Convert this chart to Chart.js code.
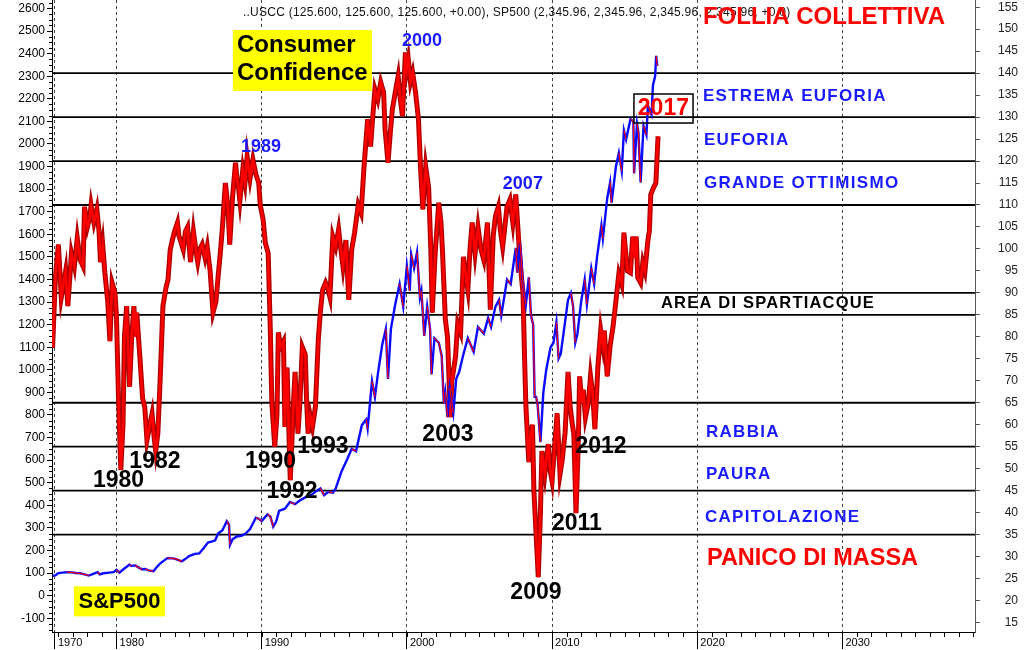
<!DOCTYPE html>
<html>
<head>
<meta charset="utf-8">
<title>USCC vs SP500</title>
<script src="https://cdn.jsdelivr.net/npm/chart.js@4.4.0/dist/chart.umd.min.js"></script>
<style>
  html, body { margin: 0; padding: 0; background: #fff; }
  #wrap { width: 1024px; height: 650px; position: relative; }
</style>
</head>
<body>
<div id="wrap"><canvas id="ccChart"></canvas></div>
<script>
// consumer confidence (right axis)
var ccYears = [
  1975.6, 1975.8, 1976.0, 1976.2, 1976.35, 1976.5, 1976.65, 1976.9, 1977.1, 1977.3,
  1977.5, 1977.7, 1977.8, 1978.0, 1978.15, 1978.25, 1978.45, 1978.65, 1978.8, 1978.9,
  1979.05, 1979.2, 1979.4, 1979.55, 1979.7, 1979.9, 1980.0, 1980.15, 1980.3, 1980.45,
  1980.55, 1980.7, 1980.8, 1980.9, 1981.05, 1981.2, 1981.3, 1981.4, 1981.6, 1981.8,
  1981.95, 1982.1, 1982.3, 1982.45, 1982.6, 1982.7, 1982.85, 1983.0, 1983.2, 1983.4,
  1983.55, 1983.7, 1983.85, 1984.0, 1984.2, 1984.3, 1984.4, 1984.6, 1984.75, 1984.9,
  1985.1, 1985.3, 1985.5, 1985.6, 1985.75, 1985.9, 1986.1, 1986.25, 1986.45, 1986.65,
  1986.85, 1987.0, 1987.15, 1987.3, 1987.5, 1987.6, 1987.7, 1987.8, 1988.0, 1988.2,
  1988.3, 1988.4, 1988.5, 1988.7, 1988.85, 1989.0, 1989.2, 1989.4, 1989.6, 1989.8,
  1989.9, 1990.1, 1990.25, 1990.45, 1990.6, 1990.7, 1990.9, 1991.05, 1991.15, 1991.3,
  1991.5, 1991.6, 1991.75, 1991.97, 1992.2, 1992.3, 1992.5, 1992.65, 1992.8, 1993.0,
  1993.1, 1993.2, 1993.35, 1993.5, 1993.7, 1993.9, 1994.05, 1994.2, 1994.4, 1994.55,
  1994.7, 1994.9, 1995.1, 1995.3, 1995.45, 1995.6, 1995.8, 1996.0, 1996.2, 1996.4,
  1996.65, 1996.85, 1997.05, 1997.3, 1997.5, 1997.65, 1997.8, 1998.0, 1998.2, 1998.4,
  1998.5, 1998.7, 1998.85, 1999.0, 1999.2, 1999.4, 1999.55, 1999.7, 1999.9, 2000.0,
  2000.1, 2000.25, 2000.4, 2000.6, 2000.8, 2000.95, 2001.1, 2001.3, 2001.5, 2001.65,
  2001.75, 2001.95, 2002.2, 2002.35, 2002.45, 2002.65, 2002.8, 2003.0, 2003.1, 2003.35,
  2003.5, 2003.7, 2003.9, 2004.05, 2004.2, 2004.35, 2004.5, 2004.7, 2004.9, 2005.1,
  2005.3, 2005.55, 2005.75, 2005.95, 2006.1, 2006.3, 2006.45, 2006.6, 2006.75, 2006.9,
  2007.1, 2007.3, 2007.5, 2007.7, 2007.85, 2008.0, 2008.1, 2008.2, 2008.4, 2008.5,
  2008.65, 2008.75, 2008.85, 2009.05, 2009.2, 2009.3, 2009.5, 2009.6, 2009.75, 2009.85,
  2010.0, 2010.2, 2010.35, 2010.55, 2010.7, 2010.9, 2011.1, 2011.25, 2011.4, 2011.5,
  2011.65, 2011.8, 2011.9, 2012.05, 2012.15, 2012.3, 2012.5, 2012.65, 2012.8, 2012.95,
  2013.15, 2013.35, 2013.5, 2013.6, 2013.8, 2014.0, 2014.2, 2014.4, 2014.6, 2014.8,
  2014.95, 2015.05, 2015.2, 2015.4, 2015.55, 2015.7, 2015.8, 2015.9, 2016.1, 2016.25,
  2016.4, 2016.6, 2016.7, 2016.8, 2017.0, 2017.15, 2017.3
];
var ccValues = [
  77.5, 94, 101, 89, 92, 95, 87, 99, 96, 102.5,
  97.5, 96, 109.6, 105, 107, 110, 106, 109, 104, 97,
  101, 94.6, 88, 79, 92.3, 90, 84.6, 65, 49.7, 60,
  80, 87, 78, 68.6, 80, 87, 80, 85.5, 76, 66,
  64, 56.5, 60, 62.5, 57, 54, 58, 69.5, 87, 91,
  93, 99.8, 102, 104, 106, 103, 102, 99.8, 104, 105,
  97, 104, 99, 97, 100, 101, 98, 100.5, 95, 85.5,
  88, 93.7, 99, 105, 115, 112, 108, 101, 112, 119.6,
  116, 114, 111, 118, 115, 121, 116, 120.3, 117, 115,
  110, 106.7, 101.4, 99, 81, 65, 55, 62, 81, 77.7,
  79, 59.5, 73, 47.4, 65.6, 72, 58, 66, 77.7, 76,
  65, 58, 62, 59.5, 64, 79.3, 86, 90.7, 92.3, 91,
  89, 102.8, 100.5, 104.4, 100, 96, 102, 88.4, 99.8, 103.7,
  110, 108.2, 118.7, 129.5, 123.3, 130, 136.3, 134, 137.9, 135.6,
  127.2, 119.6, 126, 131.7, 135.6, 139.3, 134, 130.2, 144.7, 141,
  143.1, 138, 140.1, 135.6, 129.5, 118, 109, 118.7, 114, 100,
  85.5, 99, 110.5, 106, 99.8, 84, 80, 61.7, 70, 75.4,
  83, 81, 98.2, 94, 90.7, 100, 106, 99, 105, 100,
  97.5, 106, 86.2, 103, 107.4, 109.6, 104, 100.5, 105, 109.6,
  111.2, 106, 112.4, 102, 95, 90, 76, 64.2, 51.5, 57,
  60, 45, 38.5, 25.3, 40, 54, 48.8, 52, 55.6, 50,
  47.2, 56, 62.6, 48.8, 52, 58.3, 72, 64, 60, 58,
  39.9, 55, 71, 65, 68, 61.7, 65, 71, 67, 59,
  72.8, 81.4, 78, 81.4, 71, 78, 82.3, 88.2, 94.3, 92,
  103.7, 100, 95, 94.6, 102.8, 98, 102.8, 93.5, 92.3, 96.9,
  95, 101.9, 104, 112.4, 114, 115, 125.6
];

// S&P500 (left axis)
var spYears = [
  1975.6, 1975.8, 1976.0, 1976.3, 1976.6, 1976.9, 1977.2, 1977.5, 1977.8, 1978.1,
  1978.4, 1978.7, 1978.85, 1979.1, 1979.5, 1979.8, 1980.0, 1980.2, 1980.5, 1980.9,
  1981.0, 1981.3, 1981.6, 1981.75, 1982.0, 1982.2, 1982.55, 1982.75, 1983.0, 1983.5,
  1983.9, 1984.1, 1984.5, 1984.8, 1985.0, 1985.4, 1985.7, 1986.0, 1986.3, 1986.6,
  1986.8, 1987.0, 1987.3, 1987.6, 1987.75, 1987.82, 1988.0, 1988.3, 1988.6, 1988.9,
  1989.2, 1989.6, 1989.8, 1990.0, 1990.4, 1990.6, 1990.8, 1991.0, 1991.2, 1991.6,
  1991.95, 1992.3, 1992.6, 1993.0, 1993.4, 1993.8, 1994.05, 1994.3, 1994.6, 1994.9,
  1995.1, 1995.5, 1995.9, 1996.2, 1996.5, 1996.9, 1997.2, 1997.3, 1997.6, 1997.8,
  1998.0, 1998.3, 1998.55, 1998.7, 1998.9, 1999.2, 1999.5, 1999.75, 2000.0, 2000.2,
  2000.3, 2000.5, 2000.7, 2000.9, 2001.0, 2001.2, 2001.4, 2001.6, 2001.7, 2001.9,
  2002.2, 2002.4, 2002.55, 2002.65, 2002.8, 2002.95, 2003.2, 2003.4, 2003.6, 2003.9,
  2004.2, 2004.4, 2004.6, 2004.9, 2005.3, 2005.6, 2005.8, 2006.1, 2006.35, 2006.5,
  2006.9, 2007.15, 2007.5, 2007.6, 2007.8, 2008.0, 2008.2, 2008.4, 2008.55, 2008.7,
  2008.8, 2008.9, 2009.0, 2009.2, 2009.4, 2009.6, 2009.9, 2010.1, 2010.3, 2010.45,
  2010.6, 2010.85, 2011.1, 2011.3, 2011.45, 2011.6, 2011.75, 2012.0, 2012.25, 2012.4,
  2012.7, 2012.9, 2013.1, 2013.4, 2013.5, 2013.8, 2014.0, 2014.1, 2014.4, 2014.6,
  2014.8, 2014.95, 2015.1, 2015.4, 2015.6, 2015.65, 2015.85, 2015.95, 2016.1, 2016.3,
  2016.5, 2016.6, 2016.85, 2016.95, 2017.1, 2017.17, 2017.25
];
var spValues = [
  88, 90, 100, 102, 104, 103, 100, 99, 94, 89,
  96, 104, 94, 99, 102, 104, 114, 102, 118, 138,
  132, 134, 122, 117, 118, 112, 108, 125, 142, 166,
  165, 162, 152, 165, 175, 185, 187, 210, 235, 240,
  245, 275, 290, 330, 315, 225, 250, 262, 265, 275,
  295, 345, 340, 330, 360, 350, 305, 328, 375, 385,
  415, 405, 420, 435, 445, 465, 475, 445, 460, 455,
  475, 550, 605, 650, 640, 755, 780, 740, 950, 880,
  980, 1110, 1180, 960, 1180, 1290, 1380, 1280, 1460, 1350,
  1510, 1450, 1520, 1320, 1350, 1150, 1280, 1180, 980, 1140,
  1120, 1060, 850, 900, 790, 920, 810, 960, 990, 1070,
  1140, 1110, 1080, 1190, 1160, 1230, 1190, 1280, 1310, 1240,
  1400, 1380, 1540, 1430, 1560, 1380, 1290, 1410, 1240, 1200,
  880, 880, 850, 680, 900, 1000, 1100, 1120, 1210, 1050,
  1070, 1190, 1310, 1340, 1280, 1120, 1160, 1300, 1400, 1290,
  1450, 1380, 1500, 1640, 1580, 1760, 1830, 1740, 1900, 1960,
  1880, 2060, 2020, 2110, 2100, 1870, 2090, 2050, 1830, 2080,
  2040, 2170, 2130, 2260, 2300, 2390, 2346
];

// horizontal sentiment levels (right axis)
var levelLines = [140, 130, 120, 110, 90, 85, 65, 55, 45, 35];

// axis ticks
var leftTicks = [-100, 0, 100, 200, 300, 400, 500, 600, 700, 800, 900, 1000, 1100, 1200,
  1300, 1400, 1500, 1600, 1700, 1800, 1900, 2000, 2100, 2200, 2300, 2400, 2500, 2600];
var rightTicks = [15, 20, 25, 30, 35, 40, 45, 50, 55, 60, 65, 70, 75, 80, 85, 90, 95,
  100, 105, 110, 115, 120, 125, 130, 135, 140, 145, 150, 155];
var xTicks = [1975.76, 1980, 1990, 2000, 2010, 2020, 2030];
var xTickLabels = ['1970', '1980', '1990', '2000', '2010', '2020', '2030'];

var FONT = "'Liberation Sans', Arial, sans-serif";
var BLUE = '#1a1aff';
var RED = '#ff0000';

var X_MIN = 1975.56, X_MAX = 2039.13;

function pts(xs, ys) {
  return xs.map(function (x, i) { return { x: x, y: ys[i] }; });
}

var datasets = [];
levelLines.forEach(function (v) {
  datasets.push({
    label: 'level ' + v,
    data: [{ x: X_MIN, y: v }, { x: X_MAX, y: v }],
    yAxisID: 'yR',
    borderColor: '#000',
    borderWidth: 1.8,
    pointRadius: 0,
    order: 10
  });
});
datasets.push({
  label: 'USCC edge',
  data: pts(ccYears, ccValues),
  yAxisID: 'yR',
  borderColor: '#b00000',
  borderWidth: 5,
  pointRadius: 0,
  order: 6
});
datasets.push({
  label: 'USCC',
  data: pts(ccYears, ccValues),
  yAxisID: 'yR',
  borderColor: RED,
  borderWidth: 2.4,
  pointRadius: 0,
  order: 5
});
datasets.push({
  label: 'SP500',
  data: pts(spYears, spValues),
  yAxisID: 'y',
  borderColor: '#0a0aff',
  borderWidth: 2.4,
  pointRadius: 0,
  order: 3
});
datasets.push({
  label: 'SP500 down',
  data: pts(spYears, spValues),
  yAxisID: 'y',
  borderWidth: 1.2,
  pointRadius: 0,
  segment: {
    borderColor: function (ctx) {
      return ctx.p1.parsed.y < ctx.p0.parsed.y ? '#ff0000' : 'rgba(0,0,0,0)';
    }
  },
  order: 2
});

// text on the chart, placed in (year, right-axis value) units
var notes = [
  { text: '..USCC (125.600, 125.600, 125.600, +0.00), SP500 (2,345.96, 2,345.96, 2,345.96, 2,345.96, +0.0)', x: 1988.71, y: 153.68, size: 12, ls: 0.25, weight: 'normal', color: '#111', align: 'left' },
  { text: 'FOLLIA COLLETTIVA', x: 2020.39, y: 152.77, size: 24, color: RED, align: 'left' },
  { text: '2000', x: 2001.04, y: 147.3, size: 18, color: BLUE },
  { text: '1989', x: 1989.95, y: 123.2, size: 18, color: BLUE },
  { text: '2007', x: 2007.99, y: 114.8, size: 18, color: BLUE },
  { text: 'ESTREMA EUFORIA', x: 2020.39, y: 134.68, size: 17, ls: 1.3, color: BLUE, align: 'left' },
  { text: 'EUFORIA', x: 2020.46, y: 124.67, size: 17, ls: 1.3, color: BLUE, align: 'left' },
  { text: 'GRANDE OTTIMISMO', x: 2020.46, y: 114.89, size: 17, ls: 1.3, color: BLUE, align: 'left' },
  { text: 'AREA DI SPARTIACQUE', x: 2017.5, y: 87.58, size: 16.5, ls: 1.2, color: '#000', align: 'left' },
  { text: 'RABBIA', x: 2020.6, y: 58.35, size: 17, ls: 1.3, color: BLUE, align: 'left' },
  { text: 'PAURA', x: 2020.6, y: 48.79, size: 17, ls: 1.3, color: BLUE, align: 'left' },
  { text: 'CAPITOLAZIONE', x: 2020.53, y: 38.98, size: 17, ls: 1.3, color: BLUE, align: 'left' },
  { text: 'PANICO DI MASSA', x: 2020.67, y: 29.6, size: 23.5, color: RED, align: 'left' },
  { text: '1980', x: 1980.14, y: 47.2, size: 23, color: '#000' },
  { text: '1982', x: 1982.65, y: 51.5, size: 23, color: '#000' },
  { text: '1990', x: 1990.61, y: 51.7, size: 23, color: '#000' },
  { text: '1993', x: 1994.22, y: 54.9, size: 23, color: '#000' },
  { text: '1992', x: 1992.09, y: 44.7, size: 23, color: '#000' },
  { text: '2003', x: 2002.83, y: 57.7, size: 23, color: '#000' },
  { text: '2012', x: 2013.37, y: 54.9, size: 23, color: '#000' },
  { text: '2011', x: 2011.71, y: 37.6, size: 23, color: '#000' },
  { text: '2009', x: 2008.89, y: 21.8, size: 23, color: '#000' }
];

var boxes = [
  { x1: 1988.02, x2: 1997.59, y1: 149.81, y2: 135.93, fill: '#ffff00' },
  { x1: 1977.07, x2: 1983.34, y1: 23.21, y2: 16.4, fill: '#ffff00' },
  { x1: 2015.64, x2: 2019.71, y1: 135.25, y2: 128.65, stroke: '#000' }
];
var boxTexts = [
  { text: 'Consumer', x: 1988.3, y: 146.4, size: 24, color: '#000', align: 'left' },
  { text: 'Confidence', x: 1988.3, y: 140.03, size: 24, color: '#000', align: 'left' },
  { text: 'S&P500', x: 1980.21, y: 19.76, size: 22, color: '#000' },
  { text: '2017', x: 2017.67, y: 131.95, size: 23, color: RED }
];

var notesPlugin = {
  id: 'notes',
  afterDraw: function (chart) {
    var ctx = chart.ctx;
    var sx = chart.scales.x, sr = chart.scales.yR, area = chart.chartArea;
    ctx.save();
    // minor yearly ticks on the time axis
    ctx.strokeStyle = '#000';
    ctx.lineWidth = 1;
    for (var yr = 1976; yr <= 2039; yr++) {
      var px = Math.round(sx.getPixelForValue(yr)) + 0.5;
      ctx.beginPath();
      ctx.moveTo(px, area.bottom);
      ctx.lineTo(px, area.bottom + 5);
      ctx.stroke();
    }
    // minor ticks on the left axis
    var sl = chart.scales.y;
    for (var v = -150; v <= 2625; v += 25) {
      if (v % 100 === 0) continue;
      var py = Math.round(sl.getPixelForValue(v)) + 0.5;
      ctx.beginPath();
      ctx.moveTo(area.left - 3, py);
      ctx.lineTo(area.left, py);
      ctx.stroke();
    }

    function drawText(n) {
      ctx.font = (n.weight || 'bold') + ' ' + n.size + 'px ' + FONT;
      ctx.letterSpacing = (n.ls || 0) + 'px';
      ctx.fillStyle = n.color;
      ctx.textAlign = n.align || 'center';
      ctx.textBaseline = 'middle';
      ctx.fillText(n.text, sx.getPixelForValue(n.x), sr.getPixelForValue(n.y));
    }
    boxes.forEach(function (b) {
      var x1 = sx.getPixelForValue(b.x1), x2 = sx.getPixelForValue(b.x2);
      var y1 = sr.getPixelForValue(b.y1), y2 = sr.getPixelForValue(b.y2);
      if (b.fill) {
        ctx.fillStyle = b.fill;
        ctx.fillRect(x1, y1, x2 - x1, y2 - y1);
      }
      if (b.stroke) {
        ctx.strokeStyle = b.stroke;
        ctx.lineWidth = 1.5;
        ctx.strokeRect(x1, y1, x2 - x1, y2 - y1);
      }
    });
    boxTexts.forEach(drawText);
    notes.forEach(drawText);
    ctx.restore();
  }
};

var ctxc = document.getElementById('ccChart');
var ccChart = new Chart(ctxc, {
  type: 'line',
  data: { datasets: datasets },
  options: {
    responsive: true,
    maintainAspectRatio: false,
    animation: false,
    layout: { padding: { left: 0, right: 6, top: 0, bottom: 0 } },
    plugins: { legend: { display: false }, tooltip: { enabled: false } },
    elements: { line: { tension: 0 } },
    scales: {
      x: {
        type: 'linear',
        min: X_MIN,
        max: X_MAX,
        afterBuildTicks: function (s) { s.ticks = xTicks.map(function (v) { return { value: v }; }); },
        afterFit: function (s) { s.height = 18; s.paddingLeft = 0; s.paddingRight = 0; },
        ticks: {
          autoSkip: false,
          maxRotation: 0,
          align: 'start',
          padding: -13,
          color: '#000',
          font: { family: FONT, size: 11 },
          callback: function (v, i) { return ' ' + xTickLabels[i]; }
        },
        grid: { color: '#444', lineWidth: 1, tickLength: 17, tickColor: '#000' },
        border: { display: true, color: '#000', width: 1, dash: [3, 3] }
      },
      y: {
        position: 'left',
        min: -161,
        max: 2637.6,
        afterBuildTicks: function (s) { s.ticks = leftTicks.map(function (v) { return { value: v }; }); },
        afterFit: function (s) { s.width = 52; s.paddingTop = 0; s.paddingBottom = 0; },
        ticks: {
          autoSkip: false,
          padding: 2,
          color: '#000',
          font: { family: FONT, size: 12 },
          callback: function (v) { return String(v); }
        },
        grid: { drawOnChartArea: false, tickLength: 5, tickColor: '#000' },
        border: { display: true, color: '#000', width: 1 }
      },
      yR: {
        position: 'right',
        min: 12.84,
        max: 156.64,
        afterBuildTicks: function (s) { s.ticks = rightTicks.map(function (v) { return { value: v }; }); },
        afterFit: function (s) { s.width = 43; s.paddingTop = 0; s.paddingBottom = 0; },
        ticks: {
          autoSkip: false,
          crossAlign: 'far',
          color: '#222',
          font: { family: FONT, size: 12 },
          callback: function (v) { return String(v); }
        },
        grid: { drawOnChartArea: false, tickLength: 5, tickColor: '#555' },
        border: { display: true, color: '#555', width: 1 }
      }
    }
  },
  plugins: [notesPlugin]
});
</script>
</body>
</html>
